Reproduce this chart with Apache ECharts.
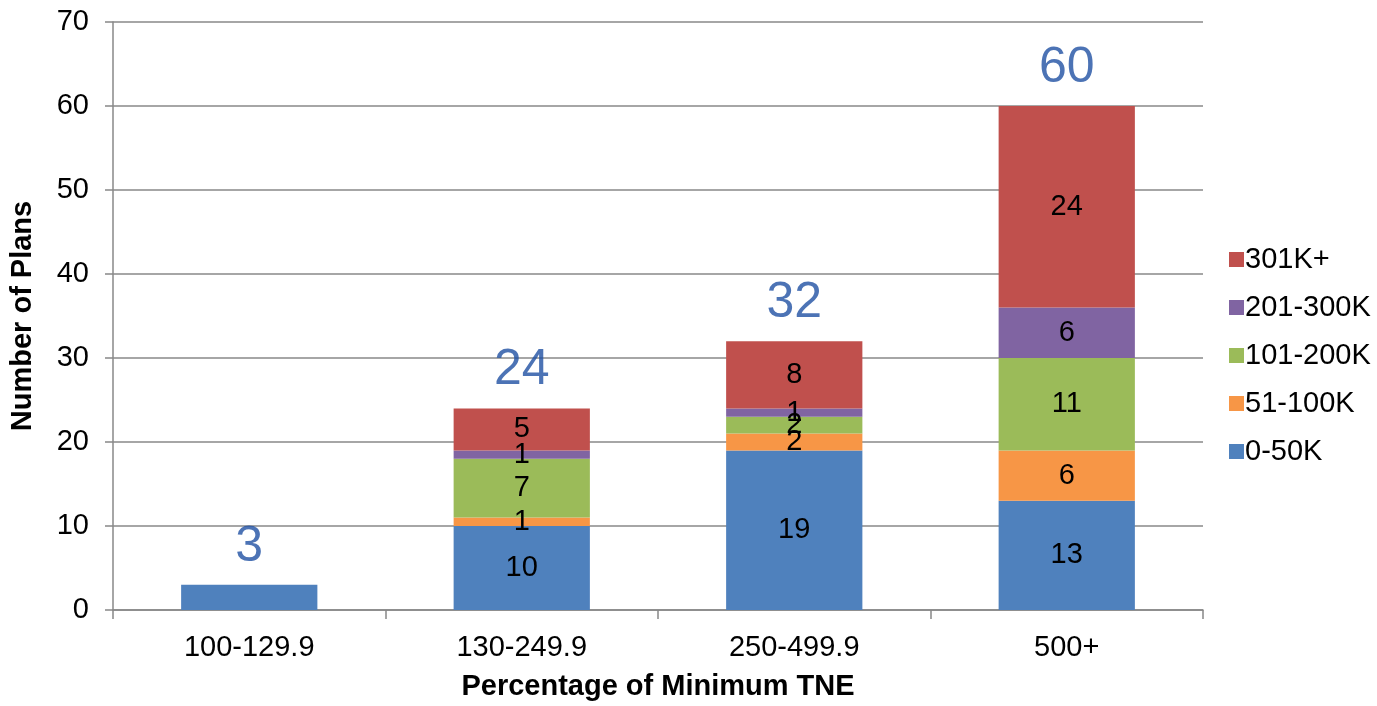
<!DOCTYPE html>
<html>
<head>
<meta charset="utf-8">
<script src="https://cdn.jsdelivr.net/npm/echarts@6/dist/echarts.min.js"></script>
<style>
html,body{margin:0;padding:0;background:#fff;}
#chart{width:1377px;height:706px;}
</style>
</head>
<body>
<div id="chart"></div>
<script>
var categories = ['100-129.9', '130-249.9', '250-499.9', '500+'];
var seriesNames = ['0-50K', '51-100K', '101-200K', '201-300K', '301K+'];
var s0_50K = [3, 10, 19, 13];
var s51_100K = [0, 1, 2, 6];
var s101_200K = [0, 7, 2, 11];
var s201_300K = [0, 1, 1, 6];
var s301Kplus = [0, 5, 8, 24];
var yTicks = [0, 10, 20, 30, 40, 50, 60, 70];
var colors = ['#4F81BD', '#F79646', '#9BBB59', '#8064A2', '#C0504D'];

var allData = [s0_50K, s51_100K, s101_200K, s201_300K, s301Kplus];
var totals = categories.map(function (c, i) {
  return allData.reduce(function (a, arr) { return a + arr[i]; }, 0);
});

var FONT = '"Liberation Sans", Arial, sans-serif';
var FS = 29;

var series = seriesNames.map(function (name, k) {
  return {
    name: name,
    type: 'bar',
    stack: 'total',
    barWidth: '50%',
    data: allData[k],
    itemStyle: { color: colors[k] },
    label: {
      show: true,
      position: 'inside',
      color: '#000',
      fontFamily: FONT,
      fontSize: FS,
      formatter: function (p) {
        if (!p.value) return '';
        if (p.value === totals[p.dataIndex]) return '';
        return p.value;
      }
    }
  };
});
series.push({
  name: 'Total',
  type: 'scatter',
  data: totals,
  symbolSize: 0,
  silent: true,
  label: {
    show: true,
    position: 'top',
    distance: 13,
    color: '#1F50A2',
    fontFamily: FONT,
    fontSize: 50,
    formatter: function (p) { return p.value; }
  }
});

var chart = echarts.init(document.getElementById('chart'));
chart.setOption({
  animation: false,
  backgroundColor: '#fff',
  textStyle: { fontFamily: FONT },
  grid: { left: 113, right: 174, top: 22, bottom: 89, containLabel: false },
  legend: {
    data: seriesNames.slice().reverse(),
    orient: 'vertical',
    left: 1224,
    top: 240,
    itemWidth: 15,
    itemHeight: 15,
    itemGap: 19,
    icon: 'rect',
    textStyle: { fontFamily: FONT, fontSize: FS, color: '#000', lineHeight: 29, padding: [0, 0, 0, -4] }
  },
  xAxis: {
    type: 'category',
    data: categories,
    name: 'Percentage of Minimum TNE',
    nameLocation: 'middle',
    nameGap: 62,
    nameTextStyle: { fontFamily: FONT, fontSize: FS, fontWeight: 'bold', color: '#000' },
    axisLine: { lineStyle: { color: '#888', width: 1.5 } },
    axisTick: { show: true, length: 9, lineStyle: { color: '#888', width: 1.5 } },
    axisLabel: { fontFamily: FONT, fontSize: FS, color: '#000', margin: 23 }
  },
  yAxis: {
    type: 'value',
    min: 0,
    max: 70,
    interval: 10,
    name: 'Number of Plans',
    nameLocation: 'middle',
    nameGap: 76,
    nameTextStyle: { fontFamily: FONT, fontSize: FS, fontWeight: 'bold', color: '#000' },
    axisLine: { show: true, lineStyle: { color: '#888', width: 1.5 } },
    axisTick: { show: true, length: 8, lineStyle: { color: '#888', width: 1.5 } },
    axisLabel: {
      fontFamily: FONT, fontSize: FS, color: '#000', margin: 24,
      formatter: function (v) { return yTicks.indexOf(v) >= 0 ? String(v) : ''; }
    },
    splitLine: { lineStyle: { color: '#888', width: 1.5 } }
  },
  series: series
});
</script>
</body>
</html>
